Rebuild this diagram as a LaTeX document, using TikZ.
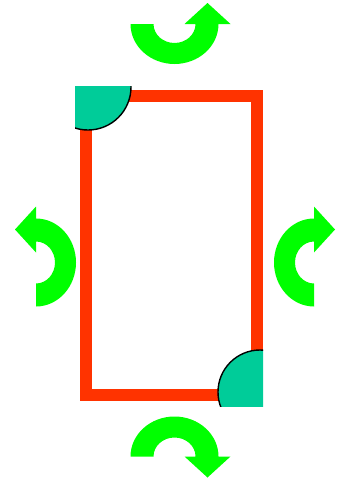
\documentclass[tikz,border=0pt]{standalone}
\usetikzlibrary{positioning}
\definecolor{frame}{HTML}{FF3300}
\definecolor{disc}{HTML}{00CC99}
\definecolor{arrowgreen}{HTML}{00FF00}

\begin{document}
\begin{tikzpicture}[
  x=1pt,y=-1pt,
  edge/.style={draw=frame,line width=11.5pt,line join=miter},
  corner/.style={fill=disc},
  rim/.style={draw=black,line width=1.4pt},
  uturn/.pic={
    \fill[arrowgreen] (-44,0) arc[start angle=180,end angle=0,x radius=44,y radius=40]
      -- (56,0) -- (33,-21) -- (10,0) -- (21,0)
      arc[start angle=0,end angle=180,x radius=21,y radius=19] -- cycle;
  }
]
\useasboundingbox (0,0) rectangle (339,479);
\coordinate (nw) at (86,96);
\coordinate (se) at (257,395);
\coordinate (tl) at (88,87);
\coordinate (br) at (260,392);
\coordinate (up)    at (174.5,24);
\coordinate (down)  at (174.5,456.5);
\coordinate (left)  at (36,262.5);
\coordinate (right) at (314,262.5);
\draw[edge] (nw) rectangle (se);
\begin{scope}
  \clip (75,86) rectangle (140,140);
  \fill[corner] (tl) circle[radius=43];
  \draw[rim] (tl) circle[radius=43];
\end{scope}
\begin{scope}
  \clip (210,340) rectangle (263,406);
  \fill[corner] (br) circle[radius=42];
  \draw[rim] (br) circle[radius=42];
\end{scope}
\pic at (up) {uturn};
\pic[yscale=-1] at (down) {uturn};
\pic[rotate=90] at (left) {uturn};
\pic[xscale=-1,rotate=90] at (right) {uturn};
\end{tikzpicture}
\end{document}
